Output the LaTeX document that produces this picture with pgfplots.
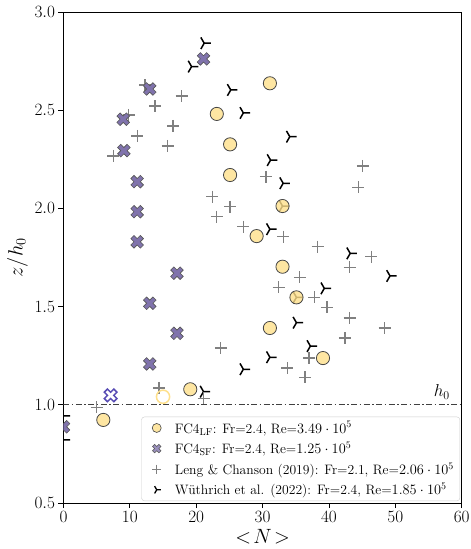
\documentclass[border=0pt]{standalone}
\usepackage{pgfplots}
\pgfplotsset{compat=1.18}

\definecolor{lfyellow}{RGB}{254,224,139}
\definecolor{lfedge}{RGB}{70,70,70}
\definecolor{sfpurple}{RGB}{128,115,172}
\definecolor{sfedge}{RGB}{85,85,85}
\definecolor{hollowpurple}{RGB}{88,76,180}
\definecolor{lenggray}{RGB}{128,128,128}
\definecolor{legedge}{RGB}{204,204,204}

\pgfdeclareplotmark{fatx}{%
  \pgftransformrotate{45}%
  \pgfpathmoveto{\pgfqpoint{-0.333\pgfplotmarksize}{\pgfplotmarksize}}%
  \pgfpathlineto{\pgfqpoint{0.333\pgfplotmarksize}{\pgfplotmarksize}}%
  \pgfpathlineto{\pgfqpoint{0.333\pgfplotmarksize}{0.333\pgfplotmarksize}}%
  \pgfpathlineto{\pgfqpoint{\pgfplotmarksize}{0.333\pgfplotmarksize}}%
  \pgfpathlineto{\pgfqpoint{\pgfplotmarksize}{-0.333\pgfplotmarksize}}%
  \pgfpathlineto{\pgfqpoint{0.333\pgfplotmarksize}{-0.333\pgfplotmarksize}}%
  \pgfpathlineto{\pgfqpoint{0.333\pgfplotmarksize}{-\pgfplotmarksize}}%
  \pgfpathlineto{\pgfqpoint{-0.333\pgfplotmarksize}{-\pgfplotmarksize}}%
  \pgfpathlineto{\pgfqpoint{-0.333\pgfplotmarksize}{-0.333\pgfplotmarksize}}%
  \pgfpathlineto{\pgfqpoint{-\pgfplotmarksize}{-0.333\pgfplotmarksize}}%
  \pgfpathlineto{\pgfqpoint{-\pgfplotmarksize}{0.333\pgfplotmarksize}}%
  \pgfpathlineto{\pgfqpoint{-0.333\pgfplotmarksize}{0.333\pgfplotmarksize}}%
  \pgfpathclose
  \pgfusepathqfillstroke
}
\pgfdeclareplotmark{triright}{%
  \pgfpathmoveto{\pgfqpoint{0pt}{0pt}}\pgfpathlineto{\pgfqpoint{\pgfplotmarksize}{0pt}}%
  \pgfpathmoveto{\pgfqpoint{0pt}{0pt}}\pgfpathlineto{\pgfqpoint{-0.5\pgfplotmarksize}{0.866\pgfplotmarksize}}%
  \pgfpathmoveto{\pgfqpoint{0pt}{0pt}}\pgfpathlineto{\pgfqpoint{-0.5\pgfplotmarksize}{-0.866\pgfplotmarksize}}%
  \pgfusepathqstroke
}

\pgfplotstableread{
x y
31.1 2.637
23.1 2.481
25.1 2.326
25.1 2.170
33.0 2.012
29.1 1.859
33.0 1.703
35.1 1.547
31.1 1.391
39.1 1.238
19.1 1.079
6.0 0.923
}\lfdata
\pgfplotstableread{
x y
15.0 1.041
}\lfhollow
\pgfplotstableread{
x y
21.1 2.761
13.0 2.608
9.0 2.454
9.1 2.294
11.1 2.136
11.1 1.983
11.1 1.830
17.1 1.670
13.0 1.517
17.1 1.364
13.0 1.208
0.0 0.888
}\sfdata
\pgfplotstableread{
x y
7.1 1.048
}\sfhollow
\pgfplotstableread{
x y
12.3 2.628
17.8 2.572
13.8 2.521
9.8 2.476
16.5 2.420
11.1 2.369
15.7 2.318
7.5 2.267
30.5 2.161
45.1 2.216
44.4 2.107
22.4 2.060
25.1 2.009
23.1 1.958
27.1 1.907
33.1 1.856
38.3 1.805
46.4 1.754
43.1 1.700
35.6 1.649
32.4 1.598
37.8 1.547
39.7 1.496
43.1 1.442
48.4 1.391
42.4 1.340
23.7 1.289
37.0 1.238
33.7 1.187
36.4 1.140
14.4 1.086
21.1 1.033
5.0 0.988
}\lengdata
\pgfplotstableread{
x y
21.2 2.841
19.3 2.722
25.2 2.603
27.1 2.486
34.1 2.365
31.2 2.246
33.1 2.128
33.0 2.012
31.1 1.894
43.2 1.771
49.2 1.656
39.3 1.593
35.1 1.547
35.1 1.418
37.2 1.299
31.1 1.242
27.1 1.181
21.1 1.067
0.0 0.944
0.0 0.821
}\wuedata

\begin{document}
\begin{tikzpicture}
\begin{axis}[
  name=ax,
  width=398.2bp, height=491bp, scale only axis,
  xmin=0, xmax=60, ymin=0.5, ymax=3.0,
  xtick={0,10,20,30,40,50,60},
  ytick={0.5,1,1.5,2,2.5,3},
  yticklabel style={/pgf/number format/.cd,fixed,fixed zerofill,precision=1},
  tick pos=left, tick align=outside, major tick length=5bp,
  every tick/.style={black, line width=0.8bp},
  axis line style={line width=0.8bp},
  tick label style={font=\fontsize{17.5}{20}\selectfont},
  label style={font=\fontsize{20}{24}\selectfont},
  xlabel={$<\!N\!>$}, ylabel={$z/h_0$},
  clip marker paths=true,
  legend cell align=left,
  legend style={at={(0.996,0.004)}, anchor=south east,
    font=\fontsize{13.7}{16}\selectfont,
    draw=legedge, rounded corners=3bp, fill=white, fill opacity=0.8, text opacity=1,
    inner xsep=4bp, inner ysep=2.5bp, row sep=3.5bp},
  legend image code/.code={\path (0bp,0bp) (27bp,0bp); \draw[#1] plot coordinates {(11bp,0bp)};},
]
\addlegendimage{mark=*, mark size=4.5bp, mark options={fill=lfyellow, draw=lfedge, line width=0.6bp}}
\addlegendentry{FC4$_{\mathrm{LF}}$: Fr=2.4, Re=$3.49\cdot 10^5$}
\addlegendimage{mark=fatx, mark size=4.5bp, mark options={fill=sfpurple, draw=sfedge, line width=0.5bp}}
\addlegendentry{FC4$_{\mathrm{SF}}$: Fr=2.4, Re=$1.25\cdot 10^5$}
\addlegendimage{mark=+, mark size=4.5bp, mark options={draw=lenggray, line width=1.1bp}}
\addlegendentry{Leng \& Chanson (2019): Fr=2.1, Re=$2.06\cdot 10^5$}
\addlegendimage{mark=triright, mark size=4.2bp, mark options={draw=black, line width=1.3bp}}
\addlegendentry{Wüthrich et al. (2022): Fr=2.4, Re=$1.85\cdot 10^5$}

\addplot[forget plot, black!75, line width=1bp, dash pattern=on 6bp off 2.5bp on 1.5bp off 2.5bp] coordinates {(0,1) (60,1)};

\addplot[forget plot, only marks, mark=triright, mark size=6.7bp, mark options={draw=black, line width=1.5bp}] table {\wuedata};
\addplot[forget plot, only marks, mark=+, mark size=6bp, mark options={draw=lenggray, line width=1.3bp}] table {\lengdata};
\addplot[forget plot, only marks, mark=fatx, mark size=6.7bp, mark options={fill=sfpurple, draw=sfedge, line width=0.6bp}] table {\sfdata};
\addplot[forget plot, only marks, mark=fatx, mark size=6.7bp, mark options={fill=white, draw=hollowpurple, line width=1.5bp}] table {\sfhollow};
\addplot[forget plot, only marks, mark=*, mark size=6.6bp, mark options={fill=lfyellow, fill opacity=0.8, draw=lfedge, line width=0.8bp}] table {\lfdata};
\addplot[forget plot, only marks, mark=o, mark size=6.6bp, mark options={draw=lfyellow, line width=1.5bp}] table {\lfhollow};

\node[font=\fontsize{18}{20}\selectfont] at (axis cs:57,1.065) {$h_0$};
\end{axis}
\pgfresetboundingbox
\path[use as bounding box] ([shift={(-63.5bp,-46bp)}]ax.south west) rectangle ([shift={(9.3bp,12bp)}]ax.north east);
\end{tikzpicture}
\end{document}
